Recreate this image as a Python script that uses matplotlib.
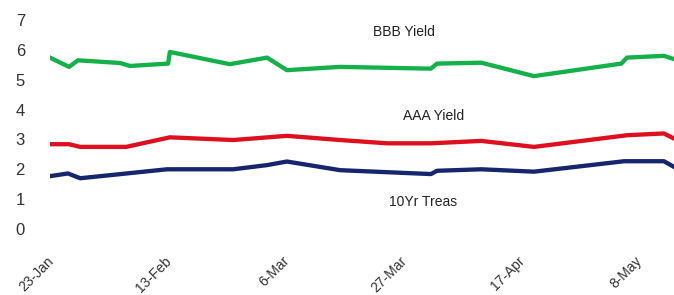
import matplotlib.pyplot as plt
import matplotlib.transforms as mtransforms

# days since 23-Jan
bbb_days = [0, 3.4, 5.0, 12.5, 14.3, 21.1, 21.4, 32.1, 38.75, 42.3, 51.8, 68.0, 69.1, 77.0, 86.4, 102.0, 103.0, 109.6, 111.4]
bbb_yield = [5.74, 5.43, 5.65, 5.56, 5.46, 5.54, 5.93, 5.52, 5.74, 5.32, 5.43, 5.37, 5.54, 5.57, 5.12, 5.54, 5.74, 5.80, 5.69]

aaa_days = [0, 3.4, 5.4, 13.6, 21.4, 32.7, 42.3, 51.8, 60.2, 68.0, 77.0, 86.4, 103.0, 109.6, 111.4]
aaa_yield = [2.84, 2.84, 2.75, 2.75, 3.07, 2.98, 3.12, 2.98, 2.87, 2.87, 2.95, 2.75, 3.14, 3.20, 3.03]

treas_days = [0, 3.2, 5.4, 20.9, 32.7, 38.75, 42.3, 51.8, 68.0, 69.1, 77.0, 86.4, 102.5, 109.6, 111.4]
treas_yield = [1.77, 1.86, 1.70, 2.0, 2.0, 2.14, 2.26, 1.97, 1.84, 1.95, 2.0, 1.92, 2.27, 2.27, 2.08]

tick_days = [0, 21, 42, 63, 84, 105]
tick_labels = ['23-Jan', '13-Feb', '6-Mar', '27-Mar', '17-Apr', '8-May']

plt.rcParams['font.family'] = ['Liberation Sans', 'DejaVu Sans']

fig = plt.figure(figsize=(6.74, 2.95), dpi=100)
ax = fig.add_axes([50 / 674, 66 / 295, 1 - 50 / 674, 209 / 295])

ax.plot(bbb_days, bbb_yield, color='#14b04a', lw=3.1, solid_joinstyle='round')
ax.plot(aaa_days, aaa_yield, color='#de0f1e', lw=3.1, solid_joinstyle='round')
ax.plot(treas_days, treas_yield, color='#15256e', lw=3.1, solid_joinstyle='round')

ax.text(63.2, 6.59, 'BBB Yield', ha='center', va='center', fontsize=10, color='#222222')
ax.text(68.4, 3.78, 'AAA Yield', ha='center', va='center', fontsize=10, color='#222222')
ax.text(66.6, 0.90, '10Yr Treas', ha='center', va='center', fontsize=10, color='#222222')

ax.set_xlim(0, 111.4)
ax.set_ylim(0, 7)
ax.set_yticks(range(0, 8))
ax.set_xticks(tick_days)
ax.set_xticklabels(tick_labels, rotation=45, ha='right')

for s in ax.spines.values():
    s.set_visible(False)
ax.tick_params(axis='y', length=0, pad=18, labelsize=12, labelcolor='#333333')
ax.tick_params(axis='x', length=0, pad=18, labelsize=10, labelcolor='#333333')

# nudge the slanted date labels a little to the right, as in the original
fig.canvas.draw()
shift = mtransforms.ScaledTranslation(7 / 100, 0, fig.dpi_scale_trans)
for tick in ax.xaxis.get_major_ticks():
    tick.label1.set_transform(tick.label1.get_transform() + shift)

fig.savefig('out.png', dpi=100)
